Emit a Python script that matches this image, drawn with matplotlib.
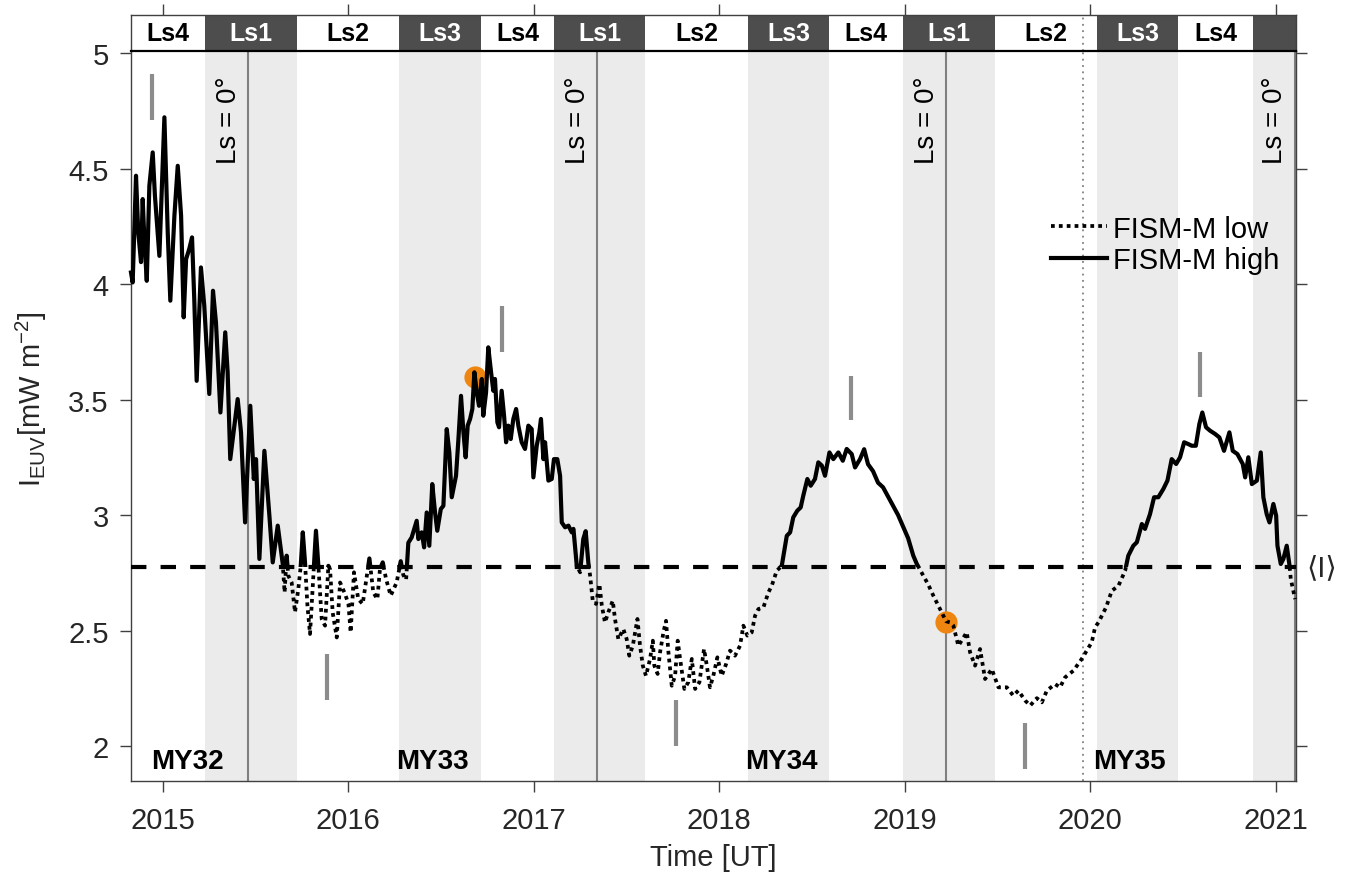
import matplotlib
matplotlib.use("Agg")
import matplotlib.pyplot as plt
from matplotlib.patches import Rectangle
from matplotlib.lines import Line2D
import numpy as np

plt.rcParams['font.family'] = ['Liberation Sans', 'DejaVu Sans']
plt.rcParams['mathtext.default'] = 'regular'

# ---------------- data ----------------
time_yr = [
    2014.829, 2014.838, 2014.856, 2014.868, 2014.883, 2014.892, 2014.901, 2014.914, 2014.928, 2014.946,
    2014.958, 2014.982, 2015.009, 2015.027, 2015.041, 2015.063, 2015.081, 2015.099, 2015.113, 2015.126,
    2015.143, 2015.158, 2015.170, 2015.183, 2015.206, 2015.224, 2015.251, 2015.271, 2015.287, 2015.311,
    2015.337, 2015.350, 2015.364, 2015.404, 2015.422, 2015.444, 2015.472, 2015.491, 2015.503, 2015.521,
    2015.548, 2015.575, 2015.593, 2015.620, 2015.647, 2015.657, 2015.668, 2015.677, 2015.695, 2015.713,
    2015.731, 2015.744, 2015.755, 2015.767, 2015.780, 2015.794, 2015.812, 2015.826, 2015.839, 2015.857,
    2015.875, 2015.893, 2015.902, 2015.916, 2015.938, 2015.956, 2015.983, 2016.001, 2016.013, 2016.031,
    2016.054, 2016.078, 2016.103, 2016.114, 2016.135, 2016.157, 2016.171, 2016.186, 2016.204, 2016.229,
    2016.261, 2016.283, 2016.297, 2016.312, 2016.324, 2016.342, 2016.369, 2016.378, 2016.396, 2016.409,
    2016.423, 2016.437, 2016.453, 2016.468, 2016.480, 2016.499, 2016.513, 2016.531, 2016.545, 2016.558,
    2016.581, 2016.594, 2016.608, 2016.621, 2016.633, 2016.644, 2016.657, 2016.669, 2016.680, 2016.693,
    2016.705, 2016.720, 2016.728, 2016.743, 2016.755, 2016.770, 2016.782, 2016.791, 2016.804, 2016.813,
    2016.827, 2016.840, 2016.851, 2016.863, 2016.876, 2016.890, 2016.905, 2016.917, 2016.935, 2016.953,
    2016.971, 2016.989, 2016.998, 2017.016, 2017.030, 2017.039, 2017.052, 2017.061, 2017.079, 2017.097,
    2017.109, 2017.127, 2017.142, 2017.151, 2017.169, 2017.187, 2017.205, 2017.214, 2017.232, 2017.250,
    2017.267, 2017.280, 2017.294, 2017.304, 2017.318, 2017.336, 2017.354, 2017.367, 2017.384, 2017.402,
    2017.426, 2017.438, 2017.456, 2017.483, 2017.501, 2017.515, 2017.534, 2017.559, 2017.573, 2017.588,
    2017.605, 2017.627, 2017.642, 2017.650, 2017.668, 2017.681, 2017.699, 2017.713, 2017.726, 2017.744,
    2017.762, 2017.776, 2017.789, 2017.812, 2017.833, 2017.852, 2017.870, 2017.893, 2017.918, 2017.933,
    2017.950, 2017.968, 2017.990, 2018.013, 2018.037, 2018.058, 2018.085, 2018.112, 2018.130, 2018.151,
    2018.175, 2018.193, 2018.211, 2018.238, 2018.265, 2018.283, 2018.310, 2018.337, 2018.364, 2018.382,
    2018.399, 2018.421, 2018.439, 2018.453, 2018.475, 2018.493, 2018.516, 2018.534, 2018.553, 2018.570,
    2018.594, 2018.615, 2018.642, 2018.666, 2018.687, 2018.714, 2018.732, 2018.759, 2018.781, 2018.802,
    2018.829, 2018.856, 2018.883, 2018.910, 2018.937, 2018.964, 2018.991, 2019.018, 2019.046, 2019.065,
    2019.100, 2019.126, 2019.154, 2019.190, 2019.223, 2019.244, 2019.262, 2019.289, 2019.334, 2019.352,
    2019.379, 2019.406, 2019.433, 2019.469, 2019.505, 2019.550, 2019.585, 2019.612, 2019.649, 2019.676,
    2019.712, 2019.739, 2019.766, 2019.810, 2019.837, 2019.864, 2019.909, 2019.954, 2019.981, 2020.008,
    2020.026, 2020.044, 2020.062, 2020.085, 2020.116, 2020.152, 2020.188, 2020.205, 2020.232, 2020.251,
    2020.278, 2020.295, 2020.322, 2020.344, 2020.367, 2020.394, 2020.416, 2020.439, 2020.463, 2020.484,
    2020.506, 2020.529, 2020.547, 2020.569, 2020.588, 2020.604, 2020.624, 2020.646, 2020.673, 2020.696,
    2020.721, 2020.750, 2020.768, 2020.793, 2020.822, 2020.835, 2020.852, 2020.871, 2020.898, 2020.919,
    2020.933, 2020.951, 2020.966, 2020.987, 2021.002, 2021.009, 2021.027, 2021.041, 2021.059, 2021.073,
    2021.081, 2021.104,
]
i_euv = [
    4.050, 4.007, 4.469, 4.225, 4.095, 4.368, 4.195, 4.014, 4.426, 4.570,
    4.382, 4.122, 4.722, 4.224, 3.928, 4.296, 4.512, 4.296, 3.856, 4.108,
    4.152, 4.202, 3.935, 3.581, 4.072, 3.906, 3.524, 3.971, 3.834, 3.444,
    3.791, 3.618, 3.242, 3.502, 3.358, 2.968, 3.473, 3.156, 3.242, 2.810,
    3.278, 2.997, 2.795, 2.954, 2.788, 2.665, 2.824, 2.737, 2.708, 2.579,
    2.680, 2.780, 2.925, 2.795, 2.608, 2.485, 2.737, 2.932, 2.780, 2.550,
    2.521, 2.780, 2.766, 2.579, 2.470, 2.708, 2.658, 2.615, 2.492, 2.752,
    2.636, 2.615, 2.752, 2.812, 2.665, 2.636, 2.766, 2.795, 2.723, 2.651,
    2.708, 2.800, 2.740, 2.720, 2.880, 2.903, 2.975, 2.896, 2.925, 2.860,
    3.011, 2.867, 3.134, 3.011, 2.932, 3.026, 3.040, 3.372, 3.271, 3.077,
    3.170, 3.329, 3.516, 3.358, 3.250, 3.387, 3.416, 3.459, 3.618, 3.531,
    3.473, 3.589, 3.430, 3.531, 3.726, 3.618, 3.538, 3.589, 3.401, 3.380,
    3.538, 3.430, 3.315, 3.387, 3.329, 3.416, 3.459, 3.387, 3.315, 3.286,
    3.387, 3.372, 3.163, 3.300, 3.358, 3.416, 3.242, 3.315, 3.149, 3.156,
    3.242, 3.242, 3.170, 2.968, 2.947, 2.954, 2.925, 2.940, 2.780, 2.752,
    2.896, 2.930, 2.795, 2.737, 2.629, 2.615, 2.701, 2.608, 2.535, 2.579,
    2.629, 2.550, 2.463, 2.506, 2.463, 2.391, 2.434, 2.550, 2.434, 2.348,
    2.304, 2.377, 2.456, 2.348, 2.312, 2.406, 2.492, 2.542, 2.406, 2.261,
    2.304, 2.456, 2.377, 2.247, 2.276, 2.377, 2.247, 2.276, 2.420, 2.348,
    2.254, 2.304, 2.384, 2.304, 2.355, 2.413, 2.391, 2.434, 2.521, 2.478,
    2.492, 2.564, 2.593, 2.600, 2.665, 2.694, 2.759, 2.780, 2.910, 2.925,
    2.990, 3.019, 3.033, 3.084, 3.156, 3.127, 3.156, 3.228, 3.214, 3.170,
    3.271, 3.242, 3.271, 3.235, 3.286, 3.264, 3.206, 3.242, 3.285, 3.220,
    3.190, 3.140, 3.120, 3.080, 3.040, 3.000, 2.950, 2.900, 2.824, 2.788,
    2.737, 2.700, 2.651, 2.593, 2.540, 2.535, 2.521, 2.434, 2.492, 2.406,
    2.348, 2.420, 2.290, 2.333, 2.254, 2.254, 2.218, 2.240, 2.197, 2.175,
    2.207, 2.189, 2.240, 2.268, 2.254, 2.297, 2.326, 2.377, 2.413, 2.449,
    2.514, 2.535, 2.564, 2.600, 2.672, 2.694, 2.759, 2.824, 2.867, 2.882,
    2.961, 2.940, 3.004, 3.077, 3.077, 3.113, 3.149, 3.242, 3.221, 3.250,
    3.315, 3.307, 3.300, 3.300, 3.394, 3.444, 3.380, 3.365, 3.351, 3.336,
    3.278, 3.358, 3.278, 3.264, 3.221, 3.163, 3.250, 3.134, 3.149, 3.271,
    3.077, 3.004, 2.968, 3.048, 2.997, 2.867, 2.788, 2.810, 2.867, 2.788,
    2.723, 2.636,
]
mean_euv = 2.775

season_edges = [2014.829, 2015.228, 2015.724, 2016.274, 2016.716, 2017.109, 2017.600, 2018.155,
                2018.592, 2018.991, 2019.487, 2020.037, 2020.473, 2020.878, 2021.109]
season_names = ['Ls4', 'Ls1', 'Ls2', 'Ls3', 'Ls4', 'Ls1', 'Ls2', 'Ls3', 'Ls4', 'Ls1', 'Ls2',
                'Ls3', 'Ls4', 'Ls1']

ls0_dates = [2015.460, 2017.341, 2019.222, 2021.101]
my_labels = ['MY32', 'MY33', 'MY34', 'MY35']
my_label_x = [2015.131, 2016.452, 2018.333, 2020.209]

marker_x = [2014.944, 2015.884, 2016.827, 2017.767, 2018.711, 2019.648, 2020.592]
marker_lo = [4.71, 2.20, 3.707, 2.00, 3.41, 1.90, 3.51]
marker_hi = [4.91, 2.40, 3.906, 2.20, 3.60, 2.10, 3.706]

highlight_x = [2016.685, 2019.220]
highlight_y = [3.596, 2.538]

dotted_date = 2019.961
year_ticks = [2015, 2016, 2017, 2018, 2019, 2020, 2021]
y_ticks = [2, 2.5, 3, 3.5, 4, 4.5, 5]
y_ticklabels = ['2', '2.5', '3', '3.5', '4', '4.5', '5']

# ---------------- figure ----------------
W, H = 1352, 879
fig = plt.figure(figsize=(W / 100, H / 100), dpi=100)
fig.patch.set_facecolor('white')

L, R = 131, 1296
ax_top, ax_bot = 52, 782
hdr_top = 16
ax = fig.add_axes([L / W, (H - ax_bot) / H, (R - L) / W, (ax_bot - ax_top) / H])
hax = fig.add_axes([L / W, (H - ax_top) / H, (R - L) / W, (ax_top - hdr_top) / H])

xmin, xmax = season_edges[0], season_edges[-1]
ymin, ymax = 1.8485, 5.009
ax.set_xlim(xmin, xmax)
ax.set_ylim(ymin, ymax)
hax.set_xlim(xmin, xmax)
hax.set_ylim(0, 1)

spine_col = '#404040'
txt_col = '#262626'

# season shading + header boxes
for i, name in enumerate(season_names):
    x0, x1 = season_edges[i], season_edges[i + 1]
    dark = name in ('Ls1', 'Ls3')
    if dark:
        ax.axvspan(x0, x1, color='#ebebeb', lw=0, zorder=0)
    hax.axvspan(x0, x1, color='#4d4d4d' if dark else 'white', lw=0, zorder=0)
    if x1 - x0 > 0.3:
        hax.text((x0 + x1) / 2, 0.5, name, ha='center', va='center', fontsize=18,
                 fontweight='bold', color='white' if dark else 'black', zorder=3)

# Ls = 0 lines
for d in ls0_dates:
    ax.axvline(d, color='#808080', lw=1.5, zorder=1)
    ax.annotate('Ls = 0°', xy=(d, 4.902), xytext=(-4.5, 0), textcoords='offset points',
                rotation=90, ha='right', va='top', fontsize=20, color='black', zorder=5)

# dotted date line
ax.axvline(dotted_date, color='#808080', lw=1.3, ls=(0, (1, 2.5)), zorder=1)
hax.axvline(dotted_date, color='#808080', lw=1.3, ls=(0, (1, 2.5)), zorder=2)

# mean line
ax.axhline(mean_euv, color='black', lw=3, ls=(0, (3.7, 3.4)), zorder=3)
ax.text(1.0085, mean_euv, '⟨I⟩', transform=ax.get_yaxis_transform(), ha='left', va='center',
        fontsize=21, color=txt_col, clip_on=False)

# short gray markers
ax.vlines(marker_x, marker_lo, marker_hi, color='#8c8c8c', lw=3, zorder=2)

# highlighted points
ax.plot(highlight_x, highlight_y, 'o', color='#EF8511', ms=16, mec='none', zorder=2.5)

# data: solid above mean, dotted below mean
hi_line, = ax.plot(time_yr, i_euv, color='black', lw=3, solid_joinstyle='round', zorder=4)
lo_line, = ax.plot(time_yr, i_euv, color='black', lw=2.7, ls=(0, (1, 1.1)), zorder=4)
hi_clip = Rectangle((xmin - 1, mean_euv), xmax - xmin + 2, 10, transform=ax.transData)
lo_clip = Rectangle((xmin - 1, mean_euv - 10), xmax - xmin + 2, 10, transform=ax.transData)
hi_line.set_clip_path(hi_clip)
lo_line.set_clip_path(lo_clip)

# MY labels
for x, lab in zip(my_label_x, my_labels):
    ax.text(x, 1.935, lab, ha='center', va='center', fontsize=20, fontweight='bold', zorder=5)

# legend
h_lo = Line2D([], [], color='black', lw=2.7, ls=(0, (1, 1.1)))
h_hi = Line2D([], [], color='black', lw=3)
ax.legend([h_lo, h_hi], ['FISM-M low', 'FISM-M high'], loc='upper right',
          bbox_to_anchor=(0.9855, 0.776), frameon=False, fontsize=21, handlelength=1.9,
          handletextpad=0.21, labelspacing=0.12, borderpad=0, borderaxespad=0)

# axes styling
ax.set_xticks(year_ticks)
ax.set_xticklabels([str(y) for y in year_ticks])
ax.set_yticks(y_ticks)
ax.set_yticklabels(y_ticklabels)
ax.tick_params(axis='both', direction='out', length=8, width=1, color=spine_col,
               labelcolor=txt_col, labelsize=21)
ax.tick_params(axis='y', right=True, labelright=False, pad=8)
ax.tick_params(axis='x', pad=10)
for s in ['left', 'right', 'bottom']:
    ax.spines[s].set_color(spine_col)
    ax.spines[s].set_linewidth(1)
ax.spines['top'].set_visible(False)

ax.set_xlabel('Time [UT]', fontsize=21, color=txt_col)
ax.xaxis.set_label_coords(0.5, -0.085)
ax.set_ylabel('I$_{EUV}$[mW m$^{-2}$]', fontsize=21, color=txt_col)
ax.yaxis.set_label_coords(-0.07, 0.525)

hax.set_yticks([])
hax.set_xticks(year_ticks)
hax.tick_params(axis='x', top=True, bottom=False, labeltop=False, labelbottom=False,
                direction='out', length=8, width=1, color=spine_col)
for s in ['left', 'right', 'top']:
    hax.spines[s].set_color(spine_col)
    hax.spines[s].set_linewidth(1)
hax.spines['bottom'].set_color('black')
hax.spines['bottom'].set_linewidth(1.6)

fig.savefig('out.png', dpi=100, facecolor='white')
